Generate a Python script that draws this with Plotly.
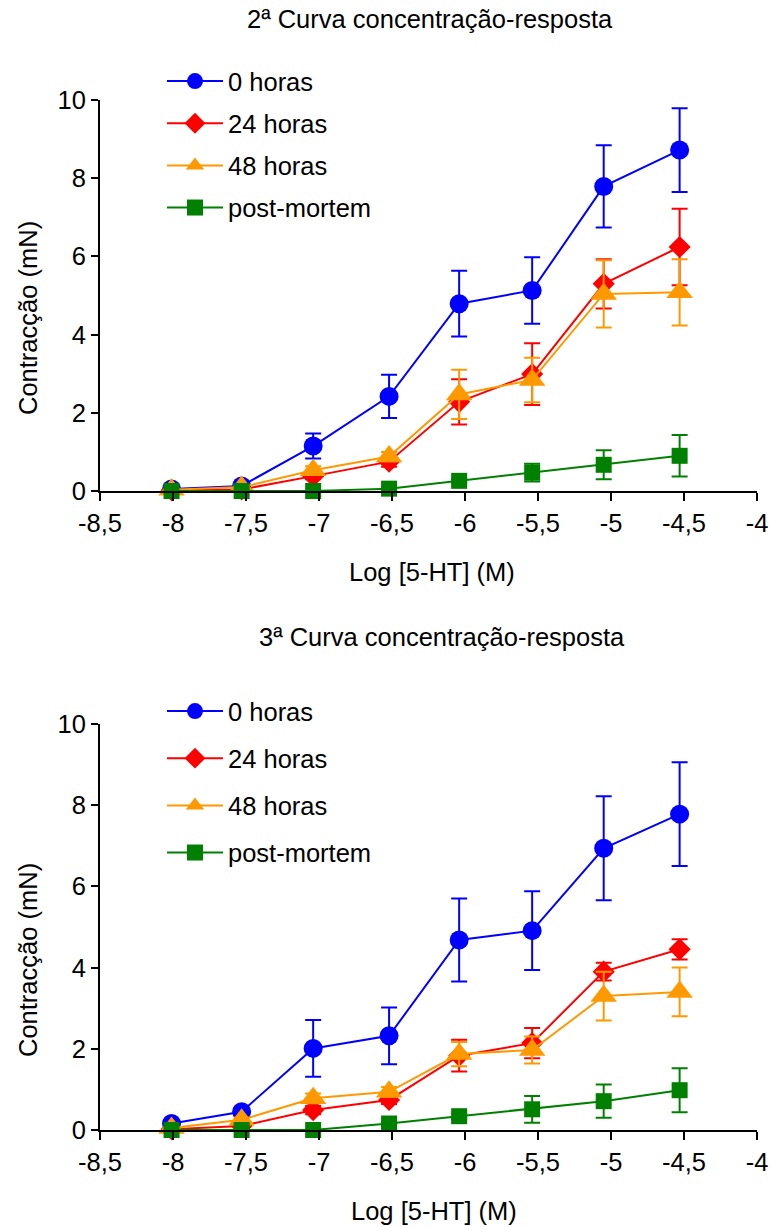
import plotly.graph_objects as go

# Log concentration of 5-HT (M) at which each response was recorded
log_conc = [-8.01, -7.53, -7.04, -6.52, -6.04, -5.54, -5.05, -4.53]

series_names = ["0 horas", "24 horas", "48 horas", "post-mortem"]

# 2nd concentration-response curve: mean contraction (mN) and SEM
c2_h0 = [0.05, 0.13, 1.15, 2.42, 4.79, 5.13, 7.79, 8.72]
c2_h0_err = [0.02, 0.05, 0.32, 0.55, 0.84, 0.85, 1.05, 1.07]
c2_h24 = [0.02, 0.04, 0.38, 0.75, 2.28, 2.99, 5.30, 6.24]
c2_h24_err = [0.01, 0.03, 0.08, 0.13, 0.58, 0.79, 0.63, 0.98]
c2_h48 = [0.03, 0.10, 0.53, 0.88, 2.47, 2.84, 5.04, 5.08]
c2_h48_err = [0.01, 0.04, 0.10, 0.12, 0.63, 0.57, 0.86, 0.85]
c2_pm = [0.0, 0.0, 0.0, 0.06, 0.26, 0.47, 0.67, 0.90]
c2_pm_err = [0.0, 0.0, 0.0, 0.03, 0.05, 0.23, 0.37, 0.53]

# 3rd concentration-response curve
c3_h0 = [0.16, 0.45, 2.01, 2.32, 4.68, 4.91, 6.94, 7.78]
c3_h0_err = [0.05, 0.10, 0.70, 0.70, 1.02, 0.97, 1.28, 1.28]
c3_h24 = [0.02, 0.10, 0.49, 0.74, 1.83, 2.14, 3.90, 4.45]
c3_h24_err = [0.01, 0.03, 0.10, 0.10, 0.39, 0.37, 0.22, 0.25]
c3_h48 = [0.05, 0.25, 0.78, 0.94, 1.87, 1.97, 3.30, 3.40]
c3_h48_err = [0.01, 0.05, 0.12, 0.12, 0.30, 0.33, 0.60, 0.60]
c3_pm = [0.0, 0.0, 0.0, 0.16, 0.34, 0.51, 0.71, 0.98]
c3_pm_err = [0.0, 0.0, 0.0, 0.04, 0.06, 0.33, 0.41, 0.54]

x_tick_vals = [-8.5, -8, -7.5, -7, -6.5, -6, -5.5, -5, -4.5, -4]
x_tick_text = ["-8,5", "-8", "-7,5", "-7", "-6,5", "-6", "-5,5", "-5", "-4,5", "-4"]
y_tick_vals = [0, 2, 4, 6, 8, 10]

colors = ["#0000FF", "#FF0000", "#FF9900", "#008000"]
symbols = ["circle", "diamond", "triangle-up", "square"]
sizes = [19, 17, 23, 16]

FONT = "Liberation Sans, Arial, sans-serif"
FS = 25.5
W, H = 770, 1227

fig = go.Figure()


def add_curve(values, errors, k, xaxis, yaxis, legend):
    fig.add_trace(go.Scatter(
        x=log_conc, y=values,
        mode="lines+markers",
        name=series_names[k],
        legendgroup=f"{legend}-{k}",
        legend=legend,
        line=dict(color=colors[k], width=2),
        marker=dict(symbol=symbols[k], size=sizes[k], color=colors[k],
                    line=dict(width=0)),
        error_y=dict(type="data", array=errors, visible=True,
                     color=colors[k], thickness=2, width=8),
        xaxis=xaxis, yaxis=yaxis,
        cliponaxis=False,
    ))


top = [(c2_h0, c2_h0_err), (c2_h24, c2_h24_err), (c2_h48, c2_h48_err), (c2_pm, c2_pm_err)]
bottom = [(c3_h0, c3_h0_err), (c3_h24, c3_h24_err), (c3_h48, c3_h48_err), (c3_pm, c3_pm_err)]
for k, (v, e) in enumerate(top):
    add_curve(v, e, k, "x", "y", "legend")
for k, (v, e) in enumerate(bottom):
    add_curve(v, e, k, "x2", "y2", "legend2")


def px_x(p):
    return p / W


def px_y(p):
    return 1 - p / H


x_dom = [px_x(100), px_x(757)]
axis_font = dict(family=FONT, size=FS, color="black")

xaxis_common = dict(
    range=[-8.5, -4], tickvals=x_tick_vals, ticktext=x_tick_text,
    showline=True, linecolor="black", linewidth=2,
    ticks="outside", ticklen=8, tickwidth=2, tickcolor="black",
    showgrid=False, zeroline=False, tickfont=axis_font, domain=x_dom,
    automargin=False,
)
yaxis_common = dict(
    range=[0, 10], tickvals=y_tick_vals,
    showline=True, linecolor="black", linewidth=2,
    ticks="outside", ticklen=7, tickwidth=2, tickcolor="black",
    showgrid=False, zeroline=False, tickfont=axis_font,
    automargin=False,
)

legend_common = dict(
    font=dict(family=FONT, size=FS, color="black"),
    bgcolor="rgba(0,0,0,0)", borderwidth=0,
    xanchor="left", yanchor="top", traceorder="grouped",
    itemclick=False, itemdoubleclick=False, itemwidth=56,
)

fig.update_layout(
    width=W, height=H,
    margin=dict(l=0, r=0, t=0, b=0, autoexpand=False),
    paper_bgcolor="white", plot_bgcolor="white",
    font=dict(family=FONT, size=FS, color="black"),
    showlegend=True,
    xaxis=dict(**xaxis_common, anchor="y"),
    yaxis=dict(**yaxis_common, domain=[px_y(491), px_y(100)], anchor="x"),
    xaxis2=dict(**xaxis_common, anchor="y2"),
    yaxis2=dict(**yaxis_common, domain=[px_y(1130), px_y(724)], anchor="x2"),
    legend=dict(**legend_common, x=px_x(162), y=px_y(58), tracegroupgap=6),
    legend2=dict(**legend_common, x=px_x(162), y=px_y(688), tracegroupgap=11),
)

text_font = dict(family=FONT, size=FS, color="black")
labels = [
    ("2ª Curva concentração-resposta", 430, 19, 0),
    ("3ª Curva concentração-resposta", 442, 637, 0),
    ("Log [5-HT] (M)", 432, 572, 0),
    ("Log [5-HT] (M)", 434, 1211, 0),
    ("Contracção (mN)", 28, 318, -90),
    ("Contracção (mN)", 28, 960, -90),
]
for text, cx, cy, angle in labels:
    fig.add_annotation(
        text=text, x=px_x(cx), y=px_y(cy), xref="paper", yref="paper",
        xanchor="center", yanchor="middle", showarrow=False,
        textangle=angle, font=text_font,
    )

fig.write_html("out.html")
